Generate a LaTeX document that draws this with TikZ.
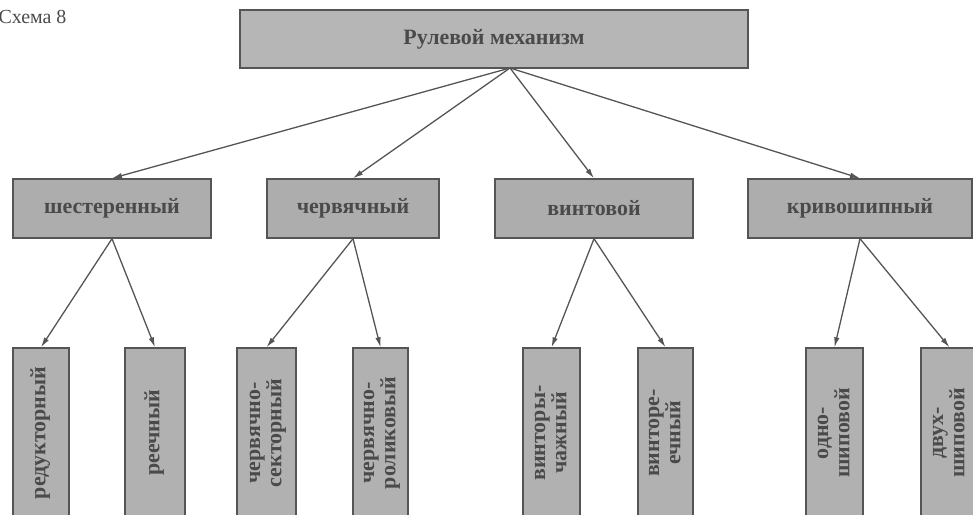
\documentclass[tikz,border=0pt]{standalone}
\usepackage{fontspec}
\setmainfont{Liberation Serif}
\usetikzlibrary{arrows.meta}
\definecolor{boxfill}{HTML}{ADADAD}
\definecolor{topfill}{HTML}{B6B6B6}
\definecolor{edge}{HTML}{555555}
\definecolor{ink}{HTML}{4A4A4A}
\tikzset{
  every node/.style={font=\fontsize{22}{21}\selectfont\bfseries, text=ink},
  box/.style={draw=edge, line width=1.4bp, fill=boxfill, inner sep=0pt},
  topbox/.style={box, fill=topfill, minimum width=508bp, minimum height=58bp},
  midbox/.style={box, minimum height=59bp},
  leaf/.style={box, fill=boxfill!95!white, minimum width=57bp, minimum height=170bp},
  link/.style={draw=edge, line width=1.3bp, -{Latex[length=10bp,width=5.5bp]}}
}
\newcommand{\vt}[1]{\rotatebox{90}{\begin{tabular}{@{}c@{}}#1\end{tabular}}}
\begin{document}
\begin{tikzpicture}[x=1bp,y=-1bp]
\useasboundingbox (0,0) rectangle (973,515);
\node[font=\fontsize{20}{22}\selectfont, anchor=west, text=ink] (title) at (-5,17) {Схема 8};
\node[topbox] (top) at (494,39) {Рулевой механизм};
\coordinate (hub) at (510,68);
\node[midbox, minimum width=198bp] (m1) at (112,208.5) {шестеренный};
\node[midbox, minimum width=172bp] (m2) at (353,208.5) {червячный};
\node[midbox, minimum width=198bp] (m3) at (594,208.5) {винтовой};
\node[midbox, minimum width=224bp] (m4) at (860,208.5) {кривошипный};
\node[leaf, minimum width=56bp] (l1) at (41,433) {\vt{редукторный}};
\node[leaf, minimum width=60bp] (l2) at (155,433) {\vt{реечный}};
\node[leaf, minimum width=59bp] (l3) at (266.5,433) {\vt{червячно-\\секторный}};
\node[leaf, minimum width=55bp] (l4) at (380.5,433) {\vt{червячно-\\роликовый}};
\node[leaf, minimum width=57bp] (l5) at (551.5,433) {\vt{винторы-\\чажный}};
\node[leaf, minimum width=55bp] (l6) at (665.5,433) {\vt{винторе-\\ечный}};
\node[leaf, minimum width=57bp] (l7) at (834.5,433) {\vt{одно-\\шиповой}};
\node[leaf, minimum width=57bp] (l8) at (949.5,433) {\vt{двух-\\шиповой}};
\foreach \m in {m1,m2,m3,m4} \draw[link] (hub) -- (\m.north);
\draw[link] (m1.south) -- (l1.north);
\draw[link] (m1.south) -- (l2.north);
\draw[link] (m2.south) -- (l3.north);
\draw[link] (m2.south) -- (l4.north);
\draw[link] (m3.south) -- (l5.north);
\draw[link] (m3.south) -- (l6.north);
\draw[link] (m4.south) -- (l7.north);
\draw[link] (m4.south) -- (l8.north);
\end{tikzpicture}
\end{document}
